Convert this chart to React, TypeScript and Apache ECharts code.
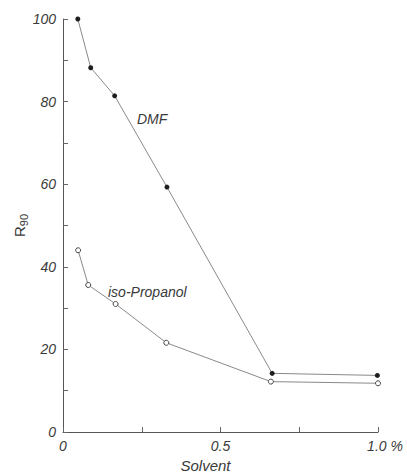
import React, { useEffect, useRef } from "react";
import * as echarts from "echarts";

const dmfX = [0.047, 0.088, 0.164, 0.33, 0.664, 0.998];
const dmfY = [100, 88.2, 81.4, 59.3, 14.2, 13.7];
const isoX = [0.048, 0.08, 0.167, 0.328, 0.66, 1.0];
const isoY = [44, 35.6, 31.0, 21.6, 12.2, 11.8];
const xTickLabels: Record<string, string> = { "0": "0", "0.5": "0.5", "1": "{m|1.0 %}" };
const yTickLabels = [0, 20, 40, 60, 80, 100];

const FONT = "'Liberation Sans', Arial, sans-serif";
const TXT = "#3a3a3a";

export default function App() {
  const ref = useRef<HTMLDivElement>(null);
  useEffect(() => {
    if (!ref.current) return;
    const chart = echarts.init(ref.current, null, { renderer: "svg" });
    const lineStyle = { color: "#8a8a8a", width: 1 };
    chart.setOption({
      animation: false,
      backgroundColor: "#ffffff",
      grid: { left: 63, right: 29, top: 19, bottom: 41, outerBoundsMode: "none" },
      xAxis: {
        type: "value",
        min: 0,
        max: 1,
        interval: 0.25,
        axisLine: { lineStyle: { color: "#555", width: 1 } },
        axisTick: { inside: true, length: 5, lineStyle: { color: "#666" } },
        splitLine: { show: false },
        axisLabel: {
          color: TXT,
          fontFamily: FONT,
          fontStyle: "italic",
          fontSize: 14,
          margin: 7,
          formatter: (v: number) => xTickLabels[String(v)] ?? "",
          rich: { m: { fontFamily: FONT, fontStyle: "italic", fontSize: 14, color: TXT, padding: [0, 0, 0, 14] } },
        },
        name: "Solvent",
        nameLocation: "middle",
        nameGap: 26,
        nameMoveOverlap: false,
        nameTextStyle: { color: TXT, fontFamily: FONT, fontStyle: "italic", fontSize: 15, padding: [0, 30, 0, 0] },
      },
      yAxis: {
        type: "value",
        min: 0,
        max: 100,
        interval: 10,
        axisLine: { show: true, lineStyle: { color: "#555", width: 1 } },
        axisTick: { show: true, inside: true, length: 5, lineStyle: { color: "#666" } },
        splitLine: { show: false },
        axisLabel: {
          color: TXT,
          fontFamily: FONT,
          fontStyle: "italic",
          fontSize: 14,
          margin: 7,
          formatter: (v: number) => (yTickLabels.includes(v) ? String(v) : ""),
        },
        name: "{r|R}{s|90}",
        nameLocation: "middle",
        nameRotate: 90,
        nameGap: 34,
        nameMoveOverlap: false,
        nameTextStyle: {
          rich: {
            r: { fontFamily: FONT, fontSize: 15, color: TXT, lineHeight: 20, verticalAlign: "middle" },
            s: { fontFamily: FONT, fontSize: 11, color: TXT, lineHeight: 20, verticalAlign: "bottom" },
          },
        },
      },
      series: [
        {
          name: "DMF",
          type: "line",
          data: dmfX.map((x, i) => [x, dmfY[i]]),
          symbol: "circle",
          symbolSize: 5,
          itemStyle: { color: "#1e1e1e", borderColor: "#1e1e1e", borderWidth: 0 },
          lineStyle,
        },
        {
          name: "iso-Propanol",
          type: "line",
          data: isoX.map((x, i) => [x, isoY[i]]),
          symbol: "circle",
          symbolSize: 5,
          itemStyle: { color: "#ffffff", borderColor: "#444", borderWidth: 1 },
          lineStyle,
        },
      ],
      graphic: [
        {
          type: "text",
          left: 137,
          top: 112,
          style: { text: "DMF", fill: TXT, font: `italic 14px ${FONT}` },
        },
        {
          type: "text",
          left: 108,
          top: 285,
          style: { text: "iso-Propanol", fill: TXT, font: `italic 14px ${FONT}` },
        },
      ],
    });
    return () => chart.dispose();
  }, []);
  return <div ref={ref} style={{ position: "fixed", left: 0, top: 0, width: 407, height: 473 }} />;
}
